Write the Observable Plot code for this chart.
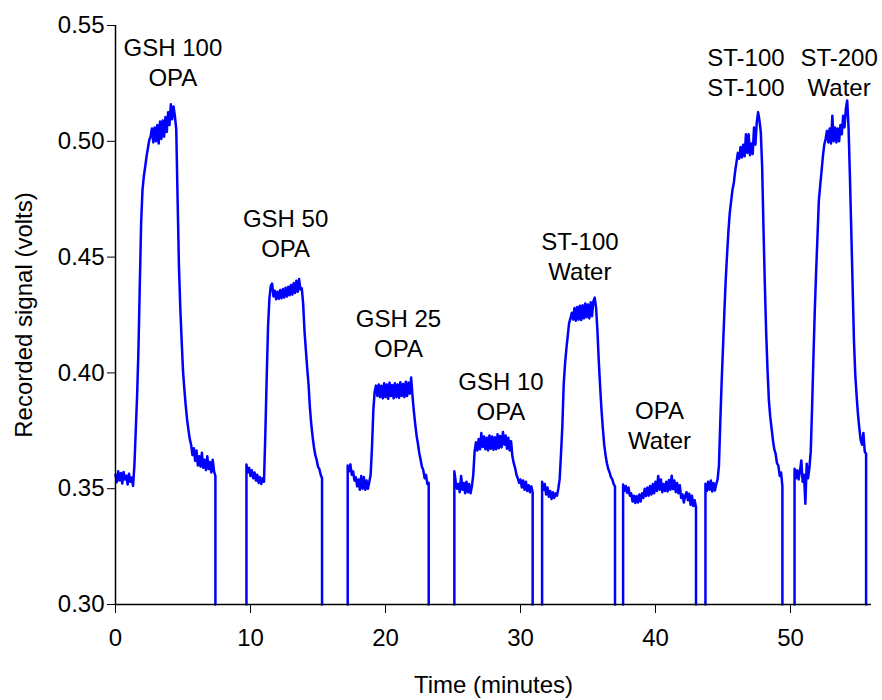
<!DOCTYPE html>
<html>
<head>
<meta charset="utf-8">
<script src="https://cdn.jsdelivr.net/npm/d3@7"></script>
<script src="https://cdn.jsdelivr.net/npm/@observablehq/plot@0.6"></script>
<style>
  html, body { margin: 0; padding: 0; background: #fff; }
  #chart svg { display: block; }
</style>
</head>
<body>
<div id="chart"></div>
<script>
// Recorder trace, sampled every 0.1 min; each injection run is one segment.
const sampleStep = 0.1;
const segStart = [0, 9.7, 17.2, 25.1, 31.6, 37.6, 43.7, 50.3];

const seg1 = [.3560,.3528,.3575,.3535,.3568,.3522,.3572,.3540,.3556,.3518,
  .3565,.3530,.3548,.3512,.3600,.3750,.3900,.4100,.4380,.4650,
  .4790,.4850,.4890,.4935,.4970,.5005,.5020,.5055,.4995,.5060,
  .5000,.5070,.4990,.5085,.5010,.5090,.5020,.5105,.5040,.5125,
  .5070,.5160,.5095,.5150,.5110,.5050,.4750,.4460,.4280,.4140,
  .4010,.3930,.3860,.3800,.3755,.3715,.3690,.3645,.3675,.3620,
  .3665,.3600,.3640,.3595,.3655,.3590,.3625,.3580,.3640,.3585,
  .3615,.3570,.3625,.3575,.3555];

const seg2 = [.3605,.3570,.3590,.3555,.3580,.3545,.3570,.3535,.3560,.3525,
  .3550,.3520,.3545,.3530,.3740,.3980,.4200,.4320,.4375,.4386,
  .4330,.4355,.4318,.4350,.4320,.4358,.4322,.4362,.4325,.4368,
  .4330,.4372,.4335,.4380,.4338,.4388,.4345,.4398,.4350,.4405,
  .4360,.4365,.4300,.4180,.4100,.4020,.3950,.3850,.3780,.3725,
  .3680,.3645,.3625,.3595,.3585,.3560,.3545];

const seg3 = [.3600,.3575,.3605,.3560,.3575,.3535,.3550,.3510,.3540,.3495,
  .3555,.3500,.3550,.3495,.3535,.3500,.3530,.3560,.3680,.3840,
  .3920,.3945,.3900,.3950,.3895,.3945,.3890,.3955,.3895,.3950,
  .3888,.3958,.3900,.3948,.3890,.3955,.3895,.3950,.3892,.3960,
  .3900,.3952,.3895,.3962,.3900,.3958,.3910,.3980,.3900,.3835,
  .3780,.3730,.3695,.3655,.3625,.3595,.3580,.3545,.3560,.3520,
  .3525];

const seg4 = [.3575,.3530,.3500,.3520,.3485,.3555,.3495,.3525,.3480,.3530,
  .3485,.3520,.3480,.3510,.3560,.3660,.3700,.3665,.3715,.3670,
  .3740,.3680,.3725,.3670,.3720,.3665,.3730,.3672,.3725,.3668,
  .3722,.3670,.3735,.3675,.3728,.3678,.3745,.3690,.3730,.3672,
  .3720,.3665,.3705,.3640,.3610,.3590,.3560,.3545,.3525,.3540,
  .3505,.3535,.3495,.3530,.3490,.3515,.3485,.3510,.3485];

const seg5 = [.3530,.3495,.3520,.3475,.3505,.3465,.3490,.3455,.3485,.3460,
  .3480,.3470,.3500,.3540,.3650,.3770,.3950,.4040,.4105,.4160,
  .4215,.4235,.4260,.4230,.4280,.4225,.4285,.4230,.4290,.4228,
  .4292,.4235,.4300,.4240,.4295,.4235,.4305,.4245,.4310,.4325,
  .4280,.4180,.4050,.3940,.3840,.3760,.3690,.3645,.3610,.3585,
  .3570,.3550,.3540,.3520,.3510];

const seg6 = [.3518,.3490,.3512,.3482,.3505,.3470,.3480,.3445,.3470,.3438,
  .3468,.3440,.3475,.3445,.3480,.3460,.3500,.3468,.3505,.3470,
  .3512,.3475,.3520,.3480,.3530,.3490,.3555,.3495,.3540,.3485,
  .3520,.3490,.3530,.3488,.3538,.3495,.3556,.3498,.3535,.3485,
  .3525,.3480,.3515,.3460,.3475,.3440,.3470,.3485,.3450,.3478,
  .3430,.3470,.3425,.3450,.3420];

const seg7 = [.3521,.3490,.3530,.3495,.3535,.3488,.3525,.3492,.3520,.3540,
  .3600,.3790,.3960,.4110,.4260,.4400,.4510,.4610,.4690,.4740,
  .4790,.4820,.4870,.4910,.4950,.4925,.4975,.4930,.4985,.4935,
  .5030,.4950,.5030,.4940,.4990,.4945,.5060,.4985,.5080,.5126,
  .5090,.5040,.4890,.4620,.4380,.4170,.4010,.3880,.3810,.3760,
  .3710,.3670,.3650,.3610,.3600,.3555,.3570,.3510];

const seg8 = [.3586,.3545,.3580,.3540,.3575,.3622,.3530,.3560,.3435,.3608,
  .3545,.3590,.3660,.3852,.4070,.4270,.4440,.4590,.4744,.4810,
  .4870,.4935,.4985,.5010,.5045,.4995,.5055,.4990,.5110,.5000,
  .5060,.4995,.5055,.5000,.5070,.5030,.5110,.5060,.5140,.5176,
  .5060,.4850,.4620,.4380,.4140,.3990,.3900,.3820,.3760,.3710,
  .3690,.3740,.3660,.3650];

// Between runs the recorder pen drops off the bottom of the scale.
const penFloor = 0.30;

// Annotations: sample injected / carrier
const labelText = ["GSH 100\nOPA", "GSH 50\nOPA", "GSH 25\nOPA", "GSH 10\nOPA",
  "ST-100\nWater", "OPA\nWater", "ST-100\nST-100", "ST-200\nWater"];
const labelTime = [4.25, 12.6, 20.96, 28.55, 34.4, 40.3, 46.7, 53.6];
const labelValue = [0.5345, 0.4606, 0.4174, 0.3902, 0.4507, 0.3779, 0.5301, 0.5301];

const xTicks = [0, 10, 20, 30, 40, 50];
const yTicks = [0.30, 0.35, 0.40, 0.45, 0.50, 0.55];

const segments = [seg1, seg2, seg3, seg4, seg5, seg6, seg7, seg8];
const trace = segments.flatMap((vals, i) => {
  const t0 = segStart[i];
  const pts = vals.map((v, j) => ({seg: i, t: t0 + j * sampleStep, v}));
  const tEnd = pts[pts.length - 1].t;
  const out = [];
  if (i > 0) out.push({seg: i, t: t0, v: penFloor});
  out.push(...pts);
  out.push({seg: i, t: tEnd, v: penFloor});
  return out;
});

const font = "'Liberation Sans', Arial, Helvetica, sans-serif";

const chart = Plot.plot({
  width: 882,
  height: 700,
  marginLeft: 115,
  marginRight: 11,
  marginTop: 25,
  marginBottom: 96,
  style: {fontFamily: font, fontSize: "24px", color: "#000", background: "#fff"},
  x: {domain: [0, 56]},
  y: {domain: [0.30, 0.55]},
  marks: [
    Plot.line(trace, {x: "t", y: "v", z: "seg", stroke: "#0000ff", strokeWidth: 2.5, strokeLinejoin: "round"}),
    Plot.text(labelText, {x: labelTime, y: labelValue, text: d => d, fontSize: 24, lineHeight: 1.25, fill: "#000"}),
    Plot.axisY({
      ticks: yTicks, tickSize: 8, tickPadding: 3, tickFormat: d3.format(".2f"),
      fontSize: 24, label: "Recorded signal (volts)", labelAnchor: "center",
      labelOffset: 101, labelArrow: "none"
    }),
    Plot.axisX({
      ticks: xTicks, tickSize: 9, tickPadding: 15, tickFormat: d3.format("d"),
      fontSize: 24, label: "Time (minutes)", labelAnchor: "center",
      labelOffset: 88, labelArrow: "none"
    }),
    Plot.ruleX([0], {stroke: "#000", strokeWidth: 1.5}),
    Plot.ruleY([0.30], {stroke: "#000", strokeWidth: 1.5})
  ]
});

document.getElementById("chart").append(chart);
</script>
</body>
</html>
